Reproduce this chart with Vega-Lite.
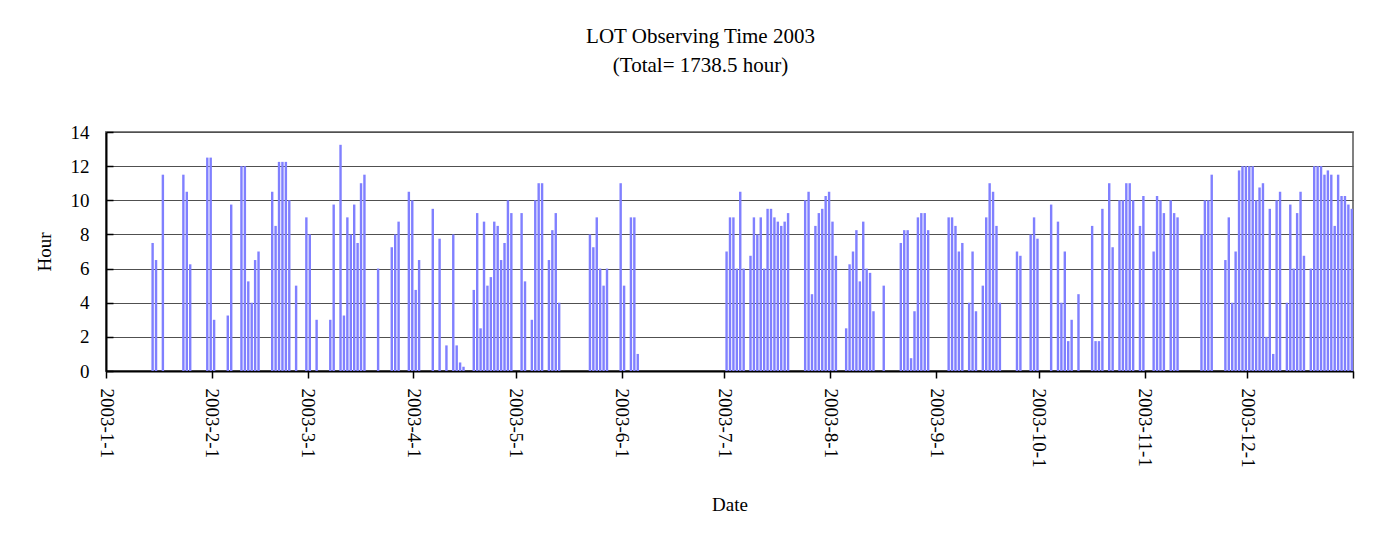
{
  "$schema": "https://vega.github.io/schema/vega-lite/v6.json",
  "autosize": "none",
  "width": 1247,
  "height": 239,
  "padding": {"left": 106, "top": 132, "right": 45, "bottom": 174},
  "background": "white",
  "title": {
    "text": ["LOT Observing Time 2003", "(Total= 1738.5 hour)"],
    "anchor": "middle",
    "frame": "group",
    "dx": -29,
    "offset": 47,
    "font": "Liberation Serif",
    "fontSize": 21,
    "fontWeight": "normal",
    "color": "black",
    "lineHeight": 29
  },
  "config": {
    "view": {"stroke": "#808080", "strokeWidth": 2},
    "axis": {
      "labelFont": "Liberation Serif",
      "titleFont": "Liberation Serif",
      "labelFontSize": 19,
      "titleFontSize": 19,
      "titleFontWeight": "normal",
      "labelColor": "black",
      "titleColor": "black",
      "domainColor": "black",
      "domainWidth": 2,
      "tickColor": "black",
      "tickWidth": 1.5
    }
  },
  "data": {
    "values": [
      {"d":"2003-01-14","h":7.5},{"d":"2003-01-15","h":6.5},{"d":"2003-01-17","h":11.5},{"d":"2003-01-23","h":11.5},{"d":"2003-01-24","h":10.5},{"d":"2003-01-25","h":6.25},{"d":"2003-01-30","h":12.5},{"d":"2003-01-31","h":12.5},
      {"d":"2003-02-01","h":3},{"d":"2003-02-05","h":3.25},{"d":"2003-02-06","h":9.75},{"d":"2003-02-09","h":12},{"d":"2003-02-10","h":12},{"d":"2003-02-11","h":5.25},{"d":"2003-02-12","h":4},{"d":"2003-02-13","h":6.5},{"d":"2003-02-14","h":7},{"d":"2003-02-18","h":10.5},{"d":"2003-02-19","h":8.5},{"d":"2003-02-20","h":12.25},{"d":"2003-02-21","h":12.25},{"d":"2003-02-22","h":12.25},{"d":"2003-02-23","h":10},{"d":"2003-02-25","h":5},{"d":"2003-02-28","h":9},
      {"d":"2003-03-01","h":8},{"d":"2003-03-03","h":3},{"d":"2003-03-07","h":3},{"d":"2003-03-08","h":9.75},{"d":"2003-03-10","h":13.25},{"d":"2003-03-11","h":3.25},{"d":"2003-03-12","h":9},{"d":"2003-03-13","h":8},{"d":"2003-03-14","h":9.75},{"d":"2003-03-15","h":7.5},{"d":"2003-03-16","h":11},{"d":"2003-03-17","h":11.5},{"d":"2003-03-21","h":6},{"d":"2003-03-25","h":7.25},{"d":"2003-03-26","h":8},{"d":"2003-03-27","h":8.75},{"d":"2003-03-30","h":10.5},{"d":"2003-03-31","h":10},
      {"d":"2003-04-01","h":4.75},{"d":"2003-04-02","h":6.5},{"d":"2003-04-06","h":9.5},{"d":"2003-04-08","h":7.75},{"d":"2003-04-10","h":1.5},{"d":"2003-04-12","h":8},{"d":"2003-04-13","h":1.5},{"d":"2003-04-14","h":0.5},{"d":"2003-04-15","h":0.25},{"d":"2003-04-18","h":4.75},{"d":"2003-04-19","h":9.25},{"d":"2003-04-20","h":2.5},{"d":"2003-04-21","h":8.75},{"d":"2003-04-22","h":5},{"d":"2003-04-23","h":5.5},{"d":"2003-04-24","h":8.75},{"d":"2003-04-25","h":8.5},{"d":"2003-04-26","h":6.5},{"d":"2003-04-27","h":7.5},{"d":"2003-04-28","h":10},{"d":"2003-04-29","h":9.25},
      {"d":"2003-05-02","h":9.25},{"d":"2003-05-03","h":5.25},{"d":"2003-05-05","h":3},{"d":"2003-05-06","h":10},{"d":"2003-05-07","h":11},{"d":"2003-05-08","h":11},{"d":"2003-05-10","h":6.5},{"d":"2003-05-11","h":8.25},{"d":"2003-05-12","h":9.25},{"d":"2003-05-13","h":4},{"d":"2003-05-22","h":8},{"d":"2003-05-23","h":7.25},{"d":"2003-05-24","h":9},{"d":"2003-05-25","h":6},{"d":"2003-05-26","h":5},{"d":"2003-05-27","h":6},{"d":"2003-05-31","h":11},
      {"d":"2003-06-01","h":5},{"d":"2003-06-03","h":9},{"d":"2003-06-04","h":9},{"d":"2003-06-05","h":1},
      {"d":"2003-07-01","h":7},{"d":"2003-07-02","h":9},{"d":"2003-07-03","h":9},{"d":"2003-07-04","h":6},{"d":"2003-07-05","h":10.5},{"d":"2003-07-06","h":6},{"d":"2003-07-08","h":6.75},{"d":"2003-07-09","h":9},{"d":"2003-07-10","h":8},{"d":"2003-07-11","h":9},{"d":"2003-07-12","h":6},{"d":"2003-07-13","h":9.5},{"d":"2003-07-14","h":9.5},{"d":"2003-07-15","h":9},{"d":"2003-07-16","h":8.75},{"d":"2003-07-17","h":8.5},{"d":"2003-07-18","h":8.75},{"d":"2003-07-19","h":9.25},{"d":"2003-07-24","h":10},{"d":"2003-07-25","h":10.5},{"d":"2003-07-26","h":4.5},{"d":"2003-07-27","h":8.5},{"d":"2003-07-28","h":9.25},{"d":"2003-07-29","h":9.5},{"d":"2003-07-30","h":10.25},{"d":"2003-07-31","h":10.5},
      {"d":"2003-08-01","h":8.75},{"d":"2003-08-02","h":6.75},{"d":"2003-08-05","h":2.5},{"d":"2003-08-06","h":6.25},{"d":"2003-08-07","h":7},{"d":"2003-08-08","h":8.25},{"d":"2003-08-09","h":5.25},{"d":"2003-08-10","h":8.75},{"d":"2003-08-11","h":6},{"d":"2003-08-12","h":5.75},{"d":"2003-08-13","h":3.5},{"d":"2003-08-16","h":5},{"d":"2003-08-21","h":7.5},{"d":"2003-08-22","h":8.25},{"d":"2003-08-23","h":8.25},{"d":"2003-08-24","h":0.75},{"d":"2003-08-25","h":3.5},{"d":"2003-08-26","h":9},{"d":"2003-08-27","h":9.25},{"d":"2003-08-28","h":9.25},{"d":"2003-08-29","h":8.25},
      {"d":"2003-09-04","h":9},{"d":"2003-09-05","h":9},{"d":"2003-09-06","h":8.5},{"d":"2003-09-07","h":7},{"d":"2003-09-08","h":7.5},{"d":"2003-09-10","h":4},{"d":"2003-09-11","h":7},{"d":"2003-09-12","h":3.5},{"d":"2003-09-14","h":5},{"d":"2003-09-15","h":9},{"d":"2003-09-16","h":11},{"d":"2003-09-17","h":10.5},{"d":"2003-09-18","h":8.5},{"d":"2003-09-19","h":4},{"d":"2003-09-24","h":7},{"d":"2003-09-25","h":6.75},{"d":"2003-09-28","h":8},{"d":"2003-09-29","h":9},{"d":"2003-09-30","h":7.75},
      {"d":"2003-10-04","h":9.75},{"d":"2003-10-06","h":8.75},{"d":"2003-10-07","h":4},{"d":"2003-10-08","h":7},{"d":"2003-10-09","h":1.75},{"d":"2003-10-10","h":3},{"d":"2003-10-12","h":4.5},{"d":"2003-10-16","h":8.5},{"d":"2003-10-17","h":1.75},{"d":"2003-10-18","h":1.75},{"d":"2003-10-19","h":9.5},{"d":"2003-10-21","h":11},{"d":"2003-10-22","h":7.25},{"d":"2003-10-24","h":10},{"d":"2003-10-25","h":10},{"d":"2003-10-26","h":11},{"d":"2003-10-27","h":11},{"d":"2003-10-28","h":10},{"d":"2003-10-30","h":8.5},{"d":"2003-10-31","h":10.25},
      {"d":"2003-11-03","h":7},{"d":"2003-11-04","h":10.25},{"d":"2003-11-05","h":10},{"d":"2003-11-06","h":9.25},{"d":"2003-11-08","h":10},{"d":"2003-11-09","h":9.25},{"d":"2003-11-10","h":9},{"d":"2003-11-17","h":8},{"d":"2003-11-18","h":10},{"d":"2003-11-19","h":10},{"d":"2003-11-20","h":11.5},{"d":"2003-11-24","h":6.5},{"d":"2003-11-25","h":9},{"d":"2003-11-26","h":4},{"d":"2003-11-27","h":7},{"d":"2003-11-28","h":11.75},{"d":"2003-11-29","h":12},{"d":"2003-11-30","h":12},
      {"d":"2003-12-01","h":12},{"d":"2003-12-02","h":12},{"d":"2003-12-03","h":10},{"d":"2003-12-04","h":10.75},{"d":"2003-12-05","h":11},{"d":"2003-12-06","h":2},{"d":"2003-12-07","h":9.5},{"d":"2003-12-08","h":1},{"d":"2003-12-09","h":10},{"d":"2003-12-10","h":10.5},{"d":"2003-12-12","h":4},{"d":"2003-12-13","h":9.75},{"d":"2003-12-14","h":6},{"d":"2003-12-15","h":9.25},{"d":"2003-12-16","h":10.5},{"d":"2003-12-17","h":6.75},{"d":"2003-12-19","h":6},{"d":"2003-12-20","h":12},{"d":"2003-12-21","h":12},{"d":"2003-12-22","h":12},{"d":"2003-12-23","h":11.5},{"d":"2003-12-24","h":11.75},{"d":"2003-12-25","h":11.5},{"d":"2003-12-26","h":8.5},{"d":"2003-12-27","h":11.5},{"d":"2003-12-28","h":10.25},{"d":"2003-12-29","h":10.25},{"d":"2003-12-30","h":9.75},{"d":"2003-12-31","h":9.5}
    ]
  },
  "mark": {"type": "bar", "color": "#8080FF", "timeUnitBandSize": 0.6, "timeUnitBandPosition": 0.5},
  "encoding": {
    "x": {
      "field": "d",
      "timeUnit": "utcyearmonthdate",
      "type": "temporal",
      "scale": {"type": "utc", "domain": [{"year": 2003, "month": 1, "date": 1, "utc": true}, {"year": 2004, "month": 1, "date": 1, "utc": true}], "nice": false},
      "axis": {
        "title": "Date",
        "values": [
          {"year": 2003, "month": 1, "date": 1, "utc": true},
          {"year": 2003, "month": 2, "date": 1, "utc": true},
          {"year": 2003, "month": 3, "date": 1, "utc": true},
          {"year": 2003, "month": 4, "date": 1, "utc": true},
          {"year": 2003, "month": 5, "date": 1, "utc": true},
          {"year": 2003, "month": 6, "date": 1, "utc": true},
          {"year": 2003, "month": 7, "date": 1, "utc": true},
          {"year": 2003, "month": 8, "date": 1, "utc": true},
          {"year": 2003, "month": 9, "date": 1, "utc": true},
          {"year": 2003, "month": 10, "date": 1, "utc": true},
          {"year": 2003, "month": 11, "date": 1, "utc": true},
          {"year": 2003, "month": 12, "date": 1, "utc": true},
          {"year": 2004, "month": 1, "date": 1, "utc": true}
        ],
        "labelExpr": "utcyear(datum.value) == 2004 ? '' : utcFormat(datum.value, '%Y-%-m-%-d')",
        "labelAngle": 90,
        "labelPadding": 10,
        "labelFlush": false,
        "labelOverlap": false,
        "tickSize": 7,
        "grid": false,
        "titlePadding": 28
      }
    },
    "y": {
      "field": "h",
      "type": "quantitative",
      "scale": {"domain": [0, 14], "nice": false},
      "axis": {
        "title": "Hour",
        "values": [0, 2, 4, 6, 8, 10, 12, 14],
        "tickSize": -7,
        "labelPadding": 24,
        "grid": true,
        "gridColor": "#505050",
        "gridWidth": 1,
        "titlePadding": 16
      }
    }
  }
}
